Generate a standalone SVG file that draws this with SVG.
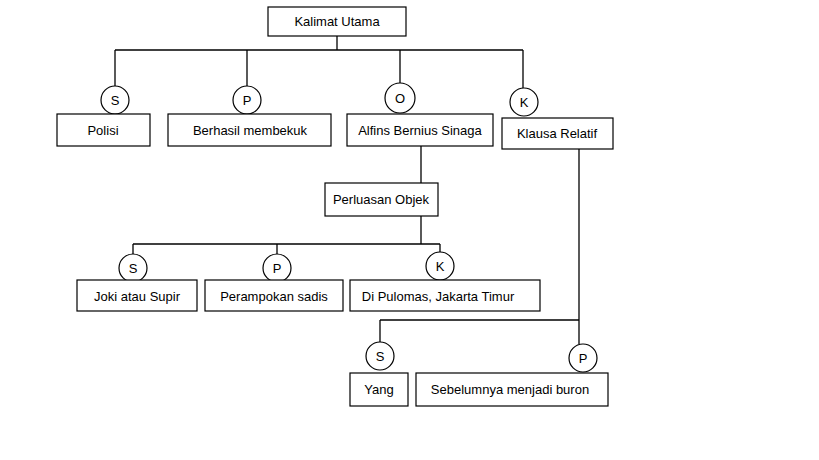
<svg xmlns="http://www.w3.org/2000/svg" width="819" height="460" viewBox="0 0 819 460">
<style>
.n rect{fill:#fff;stroke:#000;stroke-width:1.2}
.n circle{fill:#fff;stroke:#000;stroke-width:1.2}
text{font-family:"Liberation Sans",Arial,sans-serif;font-size:13px;fill:#000;text-anchor:middle;dominant-baseline:central}
.c line{stroke:#000;stroke-width:1.3;fill:none}
</style>
<rect width="819" height="460" fill="#fff"/>
<g class="c" id="connectors">
<line x1="337" y1="36" x2="337" y2="50"/>
<line x1="115" y1="50" x2="523" y2="50"/>
<line x1="115" y1="50" x2="115" y2="86"/>
<line x1="247" y1="50" x2="247" y2="86"/>
<line x1="400" y1="50" x2="400" y2="83"/>
<line x1="523" y1="50" x2="523" y2="88"/>
<line x1="421" y1="146" x2="421" y2="183"/>
<line x1="421" y1="216" x2="421" y2="244"/>
<line x1="133" y1="244" x2="440" y2="244"/>
<line x1="133" y1="244" x2="133" y2="254"/>
<line x1="277" y1="244" x2="277" y2="254"/>
<line x1="440" y1="244" x2="440" y2="252"/>
<line x1="579" y1="149" x2="579" y2="344"/>
<line x1="380" y1="320" x2="579" y2="320"/>
<line x1="380" y1="320" x2="380" y2="342"/>
</g>
<g class="n" id="kalimat"><rect x="268" y="7" width="138" height="29"/><text x="337" y="21">Kalimat Utama</text></g>
<g class="n" id="s1"><circle cx="115" cy="100" r="14"/><text x="115" y="100">S</text></g>
<g class="n" id="polisi"><rect x="57" y="114" width="93" height="32"/><text x="103" y="130">Polisi</text></g>
<g class="n" id="p1"><circle cx="247" cy="100" r="14"/><text x="247" y="100">P</text></g>
<g class="n" id="berhasil"><rect x="168" y="114" width="163" height="32"/><text x="250" y="130">Berhasil  membekuk</text></g>
<g class="n" id="o1"><circle cx="400" cy="98" r="15"/><text x="400" y="98">O</text></g>
<g class="n" id="alfins"><rect x="347" y="114" width="146" height="32"/><text x="420" y="130">Alfins Bernius Sinaga</text></g>
<g class="n" id="k1"><circle cx="524" cy="102" r="14"/><text x="524" y="102">K</text></g>
<g class="n" id="klausa"><rect x="502" y="118" width="111" height="31"/><text x="557" y="133">Klausa Relatif</text></g>
<g class="n" id="perluasan"><rect x="325" y="183" width="113" height="33"/><text x="381" y="199">Perluasan Objek</text></g>
<g class="n" id="s2"><circle cx="133" cy="268" r="14"/><text x="133" y="268">S</text></g>
<g class="n" id="joki"><rect x="77" y="280" width="120" height="31"/><text x="137" y="296">Joki atau Supir</text></g>
<g class="n" id="p2"><circle cx="277" cy="268" r="14"/><text x="277" y="268">P</text></g>
<g class="n" id="perampokan"><rect x="205" y="280" width="138" height="31"/><text x="274" y="296">Perampokan sadis</text></g>
<g class="n" id="k2"><circle cx="440" cy="266" r="14"/><text x="440" y="266">K</text></g>
<g class="n" id="pulomas"><rect x="350" y="280" width="190" height="31"/><text x="438" y="296">Di Pulomas, Jakarta Timur</text></g>
<g class="n" id="s3"><circle cx="380" cy="356" r="14"/><text x="380" y="356">S</text></g>
<g class="n" id="yang"><rect x="350" y="373" width="58" height="33"/><text x="379" y="389">Yang</text></g>
<g class="n" id="p3"><circle cx="583" cy="358" r="14"/><text x="583" y="358">P</text></g>
<g class="n" id="sebelumnya"><rect x="416" y="373" width="192" height="33"/><text x="510" y="389">Sebelumnya  menjadi buron</text></g>
</svg>
